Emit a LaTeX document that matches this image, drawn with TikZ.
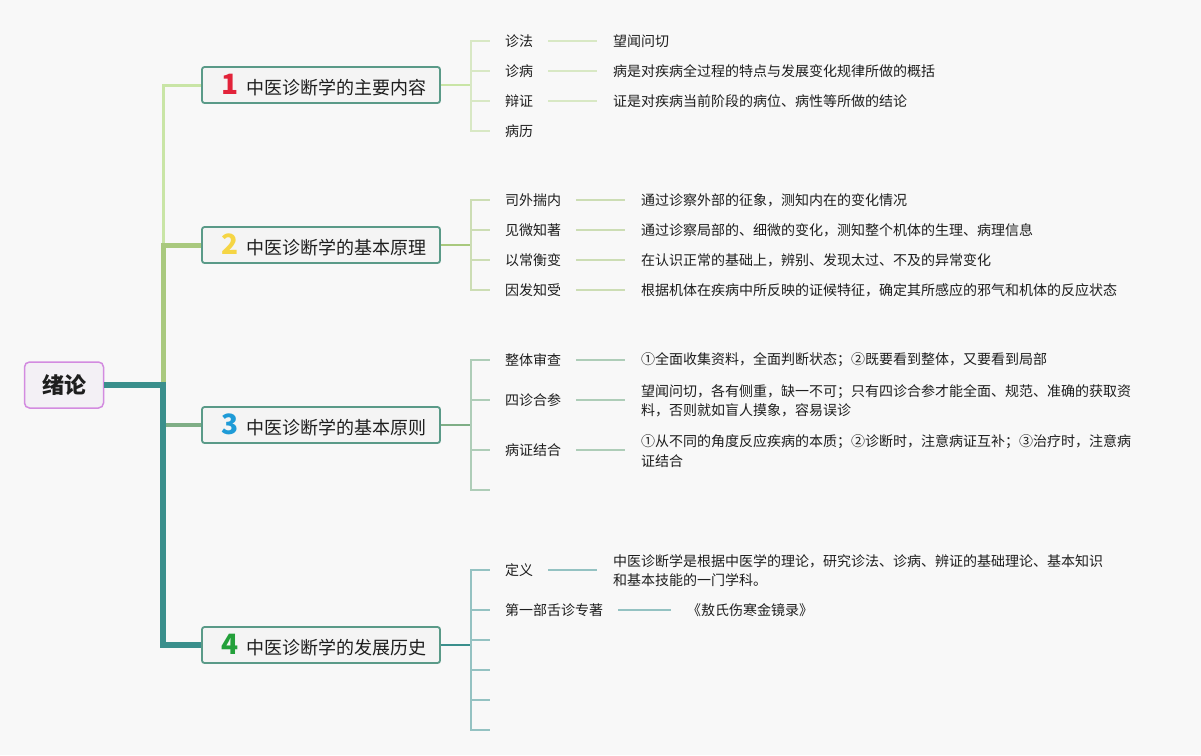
\documentclass[tikz,border=0pt]{standalone}
\usepackage{fontspec}
\setmainfont{Noto Sans CJK SC}
\usepackage{tikz}
\usepackage{xcolor}
\definecolor{bgray}{HTML}{F8F8F8}
\definecolor{boxfill}{HTML}{F4F4F4}
\definecolor{boxline}{HTML}{5A9A88}
\definecolor{rootline}{HTML}{D38BE0}
\definecolor{rootfill}{HTML}{F3F0F5}
\definecolor{lineA}{HTML}{C9E5A6}
\definecolor{lineB}{HTML}{A9C97E}
\definecolor{lineC}{HTML}{7FAE86}
\definecolor{lineD}{HTML}{3A8F8C}
\definecolor{subA}{HTML}{D8E8C4}
\definecolor{subB}{HTML}{CCDDB4}
\definecolor{subC}{HTML}{AECDB8}
\definecolor{subD}{HTML}{94C2C2}
\definecolor{numA}{HTML}{E2233A}
\definecolor{numB}{HTML}{F5D544}
\definecolor{numC}{HTML}{1E9BD7}
\definecolor{numD}{HTML}{23A03A}
\definecolor{ink}{HTML}{1E1E1E}
\newcommand{\topicnum}[2]{\hspace{6pt}{\color{#1}\fontsize{28}{28}\selectfont\bfseries #2}\hspace{7pt}}

\begin{document}
\begin{tikzpicture}[x=1pt,y=-1pt,
    rootbox/.style={draw=rootline, line width=1.5pt, rounded corners=5pt, fill=rootfill,
        minimum width=79pt, minimum height=46pt, text=ink, font=\fontsize{22}{22}\selectfont\bfseries},
    topic/.style={draw=boxline, line width=1.8pt, rounded corners=2.5pt, fill=boxfill,
        minimum width=238pt, minimum height=36pt, inner sep=0pt, text=ink, font=\fontsize{18}{18}\selectfont},
    sub/.style={anchor=west, inner sep=0pt, text=ink, font=\fontsize{14}{19.5}\selectfont},
    note/.style={sub, align=left},
    tick/.style={line width=2pt},
    link/.style={line width=2pt, shorten <=15pt, shorten >=16pt}]
    \fill[bgray] (0,0) rectangle (1201,755);

    \node[rootbox] (root) at (64,385) {绪论};
    \node[topic] (t1) at (321,85) {\topicnum{numA}{1}中医诊断学的主要内容};
    \node[topic] (t2) at (321,245) {\topicnum{numB}{2}中医诊断学的基本原理};
    \node[topic] (t3) at (321,425) {\topicnum{numC}{3}中医诊断学的基本原则};
    \node[topic] (t4) at (321,645) {\topicnum{numD}{4}中医诊断学的发展历史};
    \coordinate (hub) at (163,385);

    \draw[lineA, line width=3pt] (root.east) -- (hub) |- (t1.west);
    \draw[lineB, line width=5pt] (root.east) -- (hub) |- (t2.west);
    \draw[lineC, line width=4pt] (root.east) -- (hub) |- (t3.west);
    \draw[lineD, line width=6pt] (root.east) -- (hub) |- (t4.west);

    \coordinate (b1) at (471,85);
    \node[sub] (c11) at (505,41) {诊法};
    \node[sub] (c12) at (505,71) {诊病};
    \node[sub] (c13) at (505,101) {辩证};
    \node[sub] (c14) at (505,131) {病历};
    \node[note] (d11) at (613,41) {望闻问切};
    \node[note] (d12) at (613,71) {病是对疾病全过程的特点与发展变化规律所做的概括};
    \node[note] (d13) at (613,101) {证是对疾病当前阶段的病位、病性等所做的结论};
    \draw[lineA, tick] (t1.east) -- (b1);
    \draw[subA, tick] (b1) |- ([xshift=-15pt]c11.west);
    \draw[subA, tick] (b1) |- ([xshift=-15pt]c12.west);
    \draw[subA, tick] (b1) |- ([xshift=-15pt]c13.west);
    \draw[subA, tick] (b1) |- ([xshift=-15pt]c14.west);
    \draw[subA, link] (c11.east) -- (c11.east -| d11.west);
    \draw[subA, link] (c12.east) -- (c12.east -| d12.west);
    \draw[subA, link] (c13.east) -- (c13.east -| d13.west);

    \coordinate (b2) at (471,245);
    \node[sub] (c21) at (505,200) {司外揣内};
    \node[sub] (c22) at (505,230) {见微知著};
    \node[sub] (c23) at (505,260) {以常衡变};
    \node[sub] (c24) at (505,290) {因发知受};
    \node[note] (d21) at (641,200) {通过诊察外部的征象，测知内在的变化情况};
    \node[note] (d22) at (641,230) {通过诊察局部的、细微的变化，测知整个机体的生理、病理信息};
    \node[note] (d23) at (641,260) {在认识正常的基础上，辨别、发现太过、不及的异常变化};
    \node[note] (d24) at (641,290) {根据机体在疾病中所反映的证候特征，确定其所感应的邪气和机体的反应状态};
    \draw[lineB, tick] (t2.east) -- (b2);
    \draw[subB, tick] (b2) |- ([xshift=-15pt]c21.west);
    \draw[subB, tick] (b2) |- ([xshift=-15pt]c22.west);
    \draw[subB, tick] (b2) |- ([xshift=-15pt]c23.west);
    \draw[subB, tick] (b2) |- ([xshift=-15pt]c24.west);
    \draw[subB, link] (c21.east) -- (c21.east -| d21.west);
    \draw[subB, link] (c22.east) -- (c22.east -| d22.west);
    \draw[subB, link] (c23.east) -- (c23.east -| d23.west);
    \draw[subB, link] (c24.east) -- (c24.east -| d24.west);

    \coordinate (b3) at (471,425);
    \node[sub] (c31) at (505,360) {整体审查};
    \node[sub] (c32) at (505,400) {四诊合参};
    \node[sub] (c33) at (505,450) {病证结合};
    \coordinate (c34) at (490,490);
    \node[note] (d31) at (641,360) {①全面收集资料，全面判断状态；②既要看到整体，又要看到局部};
    \node[note] (d32) at (641,401) {望闻问切，各有侧重，缺一不可；只有四诊合参才能全面、规范、准确的获取资\\料，否则就如盲人摸象，容易误诊};
    \node[note] (d33) at (641,451) {①从不同的角度反应疾病的本质；②诊断时，注意病证互补；③治疗时，注意病\\证结合};
    \draw[lineC, tick] (t3.east) -- (b3);
    \draw[subC, tick] (b3) |- ([xshift=-15pt]c31.west);
    \draw[subC, tick] (b3) |- ([xshift=-15pt]c32.west);
    \draw[subC, tick] (b3) |- ([xshift=-15pt]c33.west);
    \draw[subC, tick] (b3) |- (c34);
    \draw[subC, link] (c31.east) -- (c31.east -| d31.west);
    \draw[subC, link] (c32.east) -- (c32.east -| d32.west);
    \draw[subC, link] (c33.east) -- (c33.east -| d33.west);

    \coordinate (b4) at (471,645);
    \node[sub] (c41) at (505,570) {定义};
    \node[sub] (c42) at (505,610) {第一部舌诊专著};
    \coordinate (c43) at (490,640);
    \coordinate (c44) at (490,670);
    \coordinate (c45) at (490,700);
    \coordinate (c46) at (490,730);
    \node[note] (d41) at (613,570.5) {中医诊断学是根据中医学的理论，研究诊法、诊病、辨证的基础理论、基本知识\\和基本技能的一门学科。};
    \node[note] (d42) at (687,610) {《敖氏伤寒金镜录》};
    \draw[lineD, tick] (t4.east) -- (b4);
    \draw[subD, tick] (b4) |- ([xshift=-15pt]c41.west);
    \draw[subD, tick] (b4) |- ([xshift=-15pt]c42.west);
    \draw[subD, tick] (b4) |- (c43);
    \draw[subD, tick] (b4) |- (c44);
    \draw[subD, tick] (b4) |- (c45);
    \draw[subD, tick] (b4) |- (c46);
    \draw[subD, link] (c41.east) -- (c41.east -| d41.west);
    \draw[subD, link] (c42.east) -- (c42.east -| d42.west);
\end{tikzpicture}
\end{document}
